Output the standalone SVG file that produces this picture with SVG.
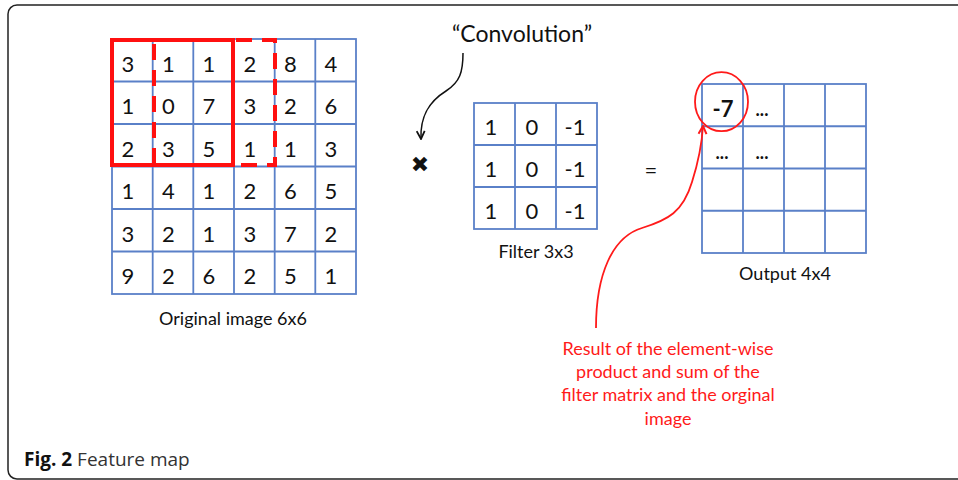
<svg xmlns="http://www.w3.org/2000/svg" width="958" height="480" viewBox="0 0 958 480">
<defs>
<style>
.grid{fill:none;stroke:#5a80c8;stroke-width:1.8}
.num{font-family:Lato,"Liberation Sans",sans-serif;font-size:22px;fill:#111;text-anchor:middle}
.lbl{font-family:Lato,"Liberation Sans",sans-serif;font-size:18px;fill:#111;text-anchor:middle}
.red{font-family:Lato,"Liberation Sans",sans-serif;font-size:18px;fill:#ff1a1a;text-anchor:middle}
.dots{font-family:Lato,"Liberation Sans",sans-serif;font-size:18px;font-weight:bold;fill:#111;text-anchor:middle}
</style>
<marker id="arrBlack" viewBox="0 0 10 10" refX="9" refY="5" markerWidth="10" markerHeight="10" markerUnits="userSpaceOnUse" orient="auto">
<path d="M1,1 L9,5 L1,9" fill="none" stroke="#111" stroke-width="1.8"/>
</marker>
<marker id="arrRed" viewBox="0 0 10 10" refX="9" refY="5" markerWidth="10" markerHeight="10" markerUnits="userSpaceOnUse" orient="auto">
<path d="M1,1 L9,5 L1,9" fill="none" stroke="#ff1a1a" stroke-width="2"/>
</marker>
</defs>
<rect x="0" y="0" width="958" height="480" fill="#fff"/>
<rect id="frame" x="8" y="5" width="990" height="474" rx="9" fill="none" stroke="#222" stroke-width="1.5"/>

<g id="original-image">
<rect class="grid" x="112" y="39" width="244" height="255"/>
<path class="grid" d="M152.7,39V294M193.3,39V294M234,39V294M274.7,39V294M315.3,39V294M112,81.5H356M112,124H356M112,166.5H356M112,209H356M112,251.5H356"/>
<g class="num">
<text x="128" y="71.5">3</text><text x="168.5" y="71.5">1</text><text x="209" y="71.5">1</text><text x="250" y="71.5">2</text><text x="290.5" y="71.5">8</text><text x="331" y="71.5">4</text>
<text x="128" y="114">1</text><text x="168.5" y="114">0</text><text x="209" y="114">7</text><text x="250" y="114">3</text><text x="290.5" y="114">2</text><text x="331" y="114">6</text>
<text x="128" y="156.5">2</text><text x="168.5" y="156.5">3</text><text x="209" y="156.5">5</text><text x="250" y="156.5">1</text><text x="290.5" y="156.5">1</text><text x="331" y="156.5">3</text>
<text x="128" y="199">1</text><text x="168.5" y="199">4</text><text x="209" y="199">1</text><text x="250" y="199">2</text><text x="290.5" y="199">6</text><text x="331" y="199">5</text>
<text x="128" y="241.5">3</text><text x="168.5" y="241.5">2</text><text x="209" y="241.5">1</text><text x="250" y="241.5">3</text><text x="290.5" y="241.5">7</text><text x="331" y="241.5">2</text>
<text x="128" y="284">9</text><text x="168.5" y="284">2</text><text x="209" y="284">6</text><text x="250" y="284">2</text><text x="290.5" y="284">5</text><text x="331" y="284">1</text>
</g>
<rect x="154" y="40" width="121" height="125" fill="none" stroke="#ff1010" stroke-width="4" stroke-dasharray="16 10" stroke-dashoffset="-4"/>
<rect x="112" y="40" width="121" height="125" fill="none" stroke="#ff1010" stroke-width="4"/>
<text class="lbl" x="233" y="325">Original image 6x6</text>
</g>

<g id="convolution-label">
<text x="522" y="42" font-family="Lato,'Liberation Sans',sans-serif" font-size="23" fill="#111" text-anchor="middle">“Convolution”</text>
</g>

<g id="times">
<text x="420" y="172" font-family="'DejaVu Sans',sans-serif" font-size="22" fill="#111" text-anchor="middle">✖</text>
</g>

<g id="filter">
<rect class="grid" x="474" y="103" width="123" height="126"/>
<path class="grid" d="M515,103V229M556,103V229M474,145H597M474,187H597"/>
<g class="num">
<text x="491" y="135">1</text><text x="532" y="135">0</text><text x="575" y="135">-1</text>
<text x="491" y="177">1</text><text x="532" y="177">0</text><text x="575" y="177">-1</text>
<text x="491" y="219">1</text><text x="532" y="219">0</text><text x="575" y="219">-1</text>
</g>
<text class="lbl" x="536" y="258">Filter 3x3</text>
</g>

<g id="equals">
<text x="651" y="178" font-family="Lato,'Liberation Sans',sans-serif" font-size="22" fill="#111" text-anchor="middle">=</text>
</g>

<g id="output">
<rect class="grid" x="702" y="84" width="164" height="169"/>
<path class="grid" d="M743,84V253M784,84V253M825,84V253M702,126.25H866M702,168.5H866M702,210.75H866"/>
<text x="723" y="117" font-family="Lato,'Liberation Sans',sans-serif" font-size="22" font-weight="bold" fill="#111" text-anchor="middle">-7</text>
<text class="dots" x="762" y="116">...</text>
<text class="dots" x="722" y="159">...</text>
<text class="dots" x="762" y="159">...</text>
<ellipse cx="721.5" cy="101.7" rx="26.5" ry="29.5" fill="none" stroke="#ff1a1a" stroke-width="1.8"/>
<text class="lbl" x="785" y="280">Output 4x4</text>
</g>

<g id="result-note">
<text class="red" x="668" y="355">Result of the element-wise</text>
<text class="red" x="668" y="378">product and sum of the</text>
<text class="red" x="668" y="401">filter matrix and the orginal</text>
<text class="red" x="668" y="425">image</text>
</g>

<g id="connectors">
<path d="M463,53 C463,72 460,82 446,91 C430,101 420,115 421,139" fill="none" stroke="#111" stroke-width="1.5" marker-end="url(#arrBlack)"/>
<path d="M596,328 C596,275 612,237 642,228 C668,220 683,212 692,182 C699,160 702,142 703,126" fill="none" stroke="#ff1a1a" stroke-width="1.8" marker-end="url(#arrRed)"/>
</g>

<g id="caption">
<text x="24" y="466" font-family="'Open Sans','Noto Sans',sans-serif" font-size="19" fill="#333"><tspan font-weight="bold" fill="#111">Fig. 2</tspan> Feature map</text>
</g>
</svg>
